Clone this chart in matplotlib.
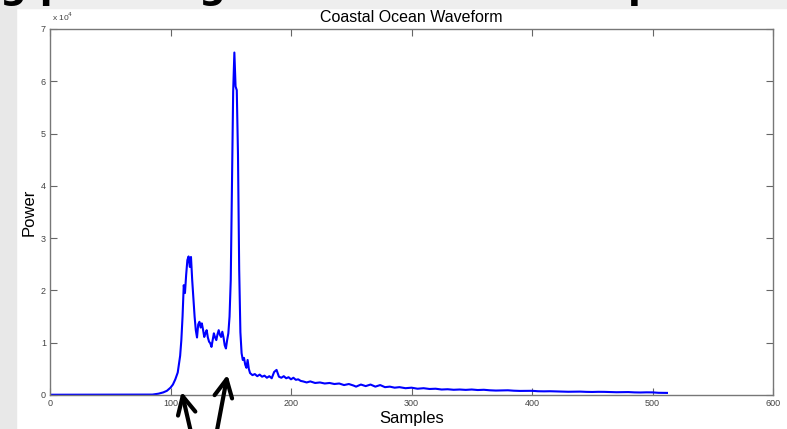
import matplotlib
matplotlib.use("Agg")
import matplotlib.pyplot as plt
from matplotlib.patches import Rectangle

# ── Data ──────────────────────────────────────────────────────────────────────
samples = [
    0, 85, 90, 94, 97, 100, 102, 104, 106, 108, 109, 110, 111, 112, 113, 114,
    115, 116, 117, 118, 119, 120, 121, 122, 123, 124, 125, 126, 127, 128, 129,
    130, 131, 132, 133, 134, 135, 136, 137, 138, 139, 140, 141, 142, 143, 144,
    145, 146, 147, 148, 149, 150, 151, 152, 153, 154, 155, 156, 157, 158, 159,
    160, 161, 162, 163, 164, 165, 166, 167, 168, 170, 172, 174, 176, 178, 180,
    182, 184, 186, 188, 190, 192, 194, 196, 198, 200, 202, 204, 206, 208, 210,
    213, 216, 220, 224, 228, 232, 236, 240, 244, 248, 252, 254, 258, 262, 266,
    270, 274, 278, 282, 286, 290, 295, 300, 305, 310, 315, 320, 325, 330, 335,
    340, 345, 350, 355, 360, 365, 370, 375, 380, 385, 390, 395, 400, 405, 410,
    415, 420, 425, 430, 435, 440, 445, 450, 455, 460, 465, 470, 475, 480, 485,
    490, 495, 500, 505, 512,
]
power = [
    50, 80, 250, 500, 800, 1400, 2000, 3000, 4300, 7500, 10500, 15000, 21000,
    19500, 23000, 25800, 26500, 24500, 26400, 22000, 18500, 15000, 12400, 11000,
    13500, 14000, 12900, 13700, 12500, 11100, 11800, 12400, 11000, 10200, 9900,
    9200, 10500, 11800, 11000, 10500, 11600, 12400, 11500, 11100, 12100, 11000,
    9500, 8900, 10500, 11800, 15000, 22000, 40000, 58000, 65500, 59000, 58300,
    46000, 24000, 12000, 8000, 6700, 7100, 5800, 5200, 6700, 5000, 4200, 4000,
    3800, 4000, 3600, 3900, 3500, 3700, 3300, 3600, 3200, 4400, 4800, 3500,
    3300, 3600, 3200, 3400, 3000, 3300, 2900, 3000, 2700, 2600, 2400, 2600,
    2300, 2400, 2200, 2300, 2100, 2200, 1900, 2100, 1800, 1600, 2000, 1700,
    2000, 1600, 1900, 1500, 1600, 1400, 1500, 1300, 1400, 1200, 1300, 1150,
    1200, 1050, 1100, 1000, 1050, 980, 1050, 950, 1000, 900, 850, 880, 900,
    820, 780, 800, 800, 720, 700, 720, 680, 650, 620, 640, 650, 600, 580, 610,
    600, 560, 530, 550, 560, 500, 480, 510, 500, 420, 400,
]
x_ticks = [0, 100, 200, 300, 400, 500, 600]
y_ticks = [0, 10000, 20000, 30000, 40000, 50000, 60000, 70000]
y_tick_labels = ["0", "1", "2", "3", "4", "5", "6", "7"]

W, H = 787, 429
plt.rcParams["font.family"] = ["Liberation Sans", "DejaVu Sans"]

fig = plt.figure(figsize=(W / 100, H / 100), dpi=100)
fig.patch.set_facecolor("white")

# slide background bits around the pasted chart
fig.add_artist(Rectangle((0, 1 - 8 / H), 1, 8 / H, transform=fig.transFigure,
                         color="#eeeeee", zorder=0))
fig.add_artist(Rectangle((0, 0), 16 / W, 1, transform=fig.transFigure,
                         color="#e8e8e8", zorder=0))
# descenders of the slide heading, cut by the top edge
for txt, px in [("g p", 0), ("g", 198), ("p", 628)]:
    fig.text(px / W, 1 + 2 / H, txt, fontsize=27, fontweight="bold",
             ha="left", va="baseline", color="black", family="DejaVu Sans")

ax = fig.add_axes([50 / W, 1 - 395 / H, 723 / W, 366 / H])
ax.plot(samples, power, color="#0000ff", lw=1.5)

ax.set_xlim(0, 600)
ax.set_ylim(0, 70000)
ax.set_xticks(x_ticks)
ax.set_xticklabels([str(t) for t in x_ticks])
ax.set_yticks(y_ticks)
ax.set_yticklabels(y_tick_labels)
ax.tick_params(direction="in", length=5, width=0.8, color="#666666",
               labelsize=6.5, labelcolor="#444444", top=True, right=True, pad=3)
for s in ax.spines.values():
    s.set_color("#777777")
    s.set_linewidth(1.0)

ax.set_title("Coastal Ocean Waveform", fontsize=11.5, pad=5)
ax.set_xlabel("Samples", fontsize=12, labelpad=2)
ax.set_ylabel("Power", fontsize=12, labelpad=3)
fig.text(52 / W, 1 - 17 / H, r"x 10$^4$", fontsize=6, color="#444444",
         ha="left", va="center")

# arrows pointing at the two returns
for tip, tail in [((181, H - 389), (193, -12)), ((228, H - 372), (215, -12))]:
    ax.annotate("", xy=tip, xycoords="figure pixels",
                xytext=tail, textcoords="figure pixels",
                arrowprops=dict(arrowstyle="->", lw=3, color="black",
                                mutation_scale=32),
                annotation_clip=False)

fig.savefig("out.png", dpi=100)
